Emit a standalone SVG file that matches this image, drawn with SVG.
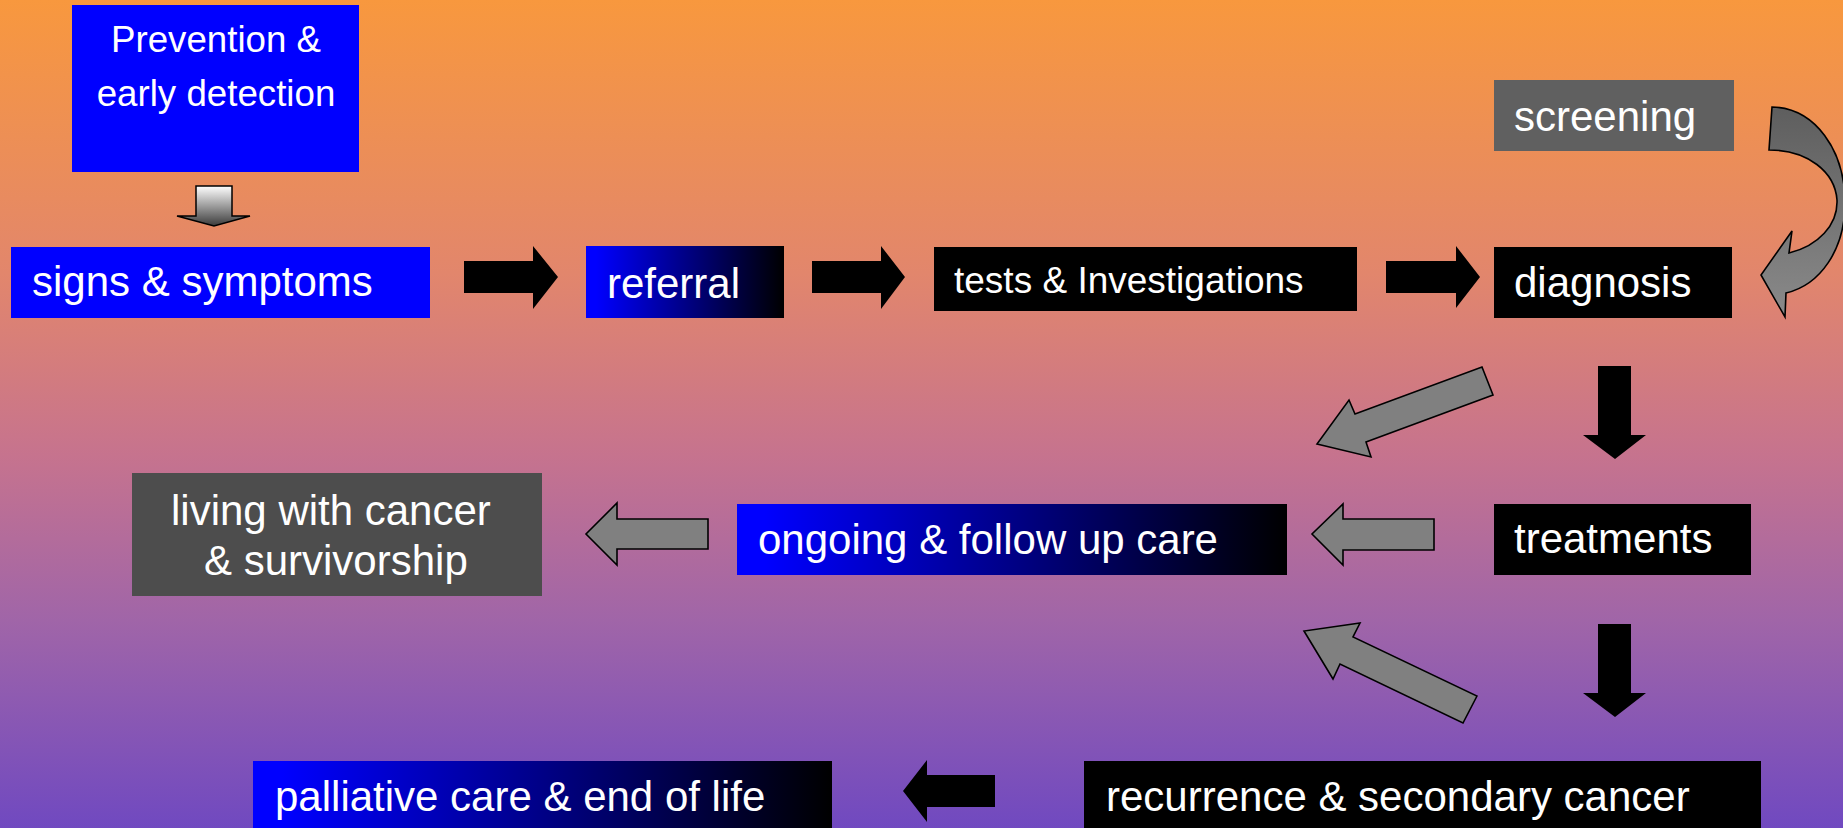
<svg xmlns="http://www.w3.org/2000/svg" width="1843" height="828" viewBox="0 0 1843 828">
<defs>
<linearGradient id="bg" x1="0" y1="0" x2="0" y2="1">
<stop offset="0" stop-color="#F8983E"/>
<stop offset="0.33" stop-color="#E2866C"/>
<stop offset="0.55" stop-color="#C6738E"/>
<stop offset="0.75" stop-color="#A065A8"/>
<stop offset="1" stop-color="#7049C0"/>
</linearGradient>
<linearGradient id="bk" x1="0" y1="0" x2="1" y2="0">
<stop offset="0.05" stop-color="#0000FF"/>
<stop offset="1" stop-color="#000000"/>
</linearGradient>
<linearGradient id="dn" x1="0" y1="0" x2="0" y2="1">
<stop offset="0" stop-color="#FFFFFF"/>
<stop offset="1" stop-color="#3A3A3A"/>
</linearGradient>
<linearGradient id="cv" x1="0" y1="0" x2="0" y2="1">
<stop offset="0" stop-color="#5E5E5E"/>
<stop offset="1" stop-color="#8A8A8A"/>
</linearGradient>
</defs>
<style>
.t{font-family:"Liberation Sans",Arial,sans-serif;font-size:42px;fill:#FFFFFF}
.blue{fill:#0000FF}
.black{fill:#000000}
.grad{fill:url(#bk)}
.gray{fill:#808080;stroke:#000;stroke-width:1.6;stroke-linejoin:miter}
.barrow{fill:#000000}
</style>
<rect x="0" y="0" width="1843" height="828" fill="url(#bg)"/>

<g id="connectors">
<path id="a-prev-signs" d="M196,186 L232,186 L232,216 L250,216 L214,226 L177,216 L196,216 Z" fill="url(#dn)" stroke="#000" stroke-width="1.5"/>
<path id="a-signs-ref" class="barrow" d="M464,261 L533,261 L533,246 L558,277 L533,309 L533,293 L464,293 Z"/>
<path id="a-ref-tests" class="barrow" d="M812,261 L881,261 L881,246 L905,277 L881,309 L881,293 L812,293 Z"/>
<path id="a-tests-diag" class="barrow" d="M1386,261 L1456,261 L1456,246 L1480,277 L1456,308 L1456,293 L1386,293 Z"/>
<path id="a-screen-diag" d="M1772,107 C1815,108 1845,150 1845,203 C1845,250 1820,285 1786,293 L1785,317 L1761,275 L1792,231 L1789,253 C1818,246 1838,225 1837,200 C1835,172 1808,150 1769,150 Z" fill="url(#cv)" stroke="#000" stroke-width="1.6"/>
<path id="a-diag-treat" class="barrow" d="M1598,366 L1631,366 L1631,435 L1646,435 L1615,459 L1583,435 L1598,435 Z"/>
<path id="a-diag-ongoing" class="gray" d="M1482,367 L1493,395 L1366,442 L1371,457 L1317,444 L1349,400 L1355,414 Z"/>
<path id="a-treat-ongoing" class="gray" d="M1434,519 L1343,519 L1343,504 L1312,534 L1343,565 L1343,550 L1434,550 Z"/>
<path id="a-ongoing-living" class="gray" d="M708,519 L617,519 L617,503 L586,534 L617,565 L617,549 L708,549 Z"/>
<path id="a-treat-recur" class="barrow" d="M1598,624 L1631,624 L1631,693 L1646,693 L1615,717 L1583,693 L1598,693 Z"/>
<path id="a-recur-ongoing" class="gray" d="M1477,696 L1463,723 L1340,664 L1333,679 L1304,631 L1360,623 L1353,637 Z"/>
<path id="a-recur-pall" class="barrow" d="M995,775 L927,775 L927,760 L903,791 L927,822 L927,807 L995,807 Z"/>
</g>

<g id="prevention">
<rect class="blue" x="72" y="5" width="287" height="167"/>
<text class="t" x="216" y="52" text-anchor="middle" style="font-size:36.7px">Prevention &amp;</text>
<text class="t" x="216" y="106" text-anchor="middle" style="font-size:36.7px">early detection</text>
</g>
<g id="signs">
<rect class="blue" x="11" y="247" width="419" height="71"/>
<text class="t" x="32" y="296">signs &amp; symptoms</text>
</g>
<g id="referral">
<rect class="grad" x="586" y="246" width="198" height="72"/>
<text class="t" x="607" y="298">referral</text>
</g>
<g id="tests">
<rect class="black" x="934" y="247" width="423" height="64"/>
<text class="t" x="954" y="293" style="font-size:37px">tests &amp; Investigations</text>
</g>
<g id="screening">
<rect x="1494" y="80" width="240" height="71" fill="#606060"/>
<text class="t" x="1514" y="131">screening</text>
</g>
<g id="diagnosis">
<rect class="black" x="1494" y="247" width="238" height="71"/>
<text class="t" x="1514" y="297">diagnosis</text>
</g>
<g id="treatments">
<rect class="black" x="1494" y="504" width="257" height="71"/>
<text class="t" x="1514" y="553">treatments</text>
</g>
<g id="ongoing">
<rect class="grad" x="737" y="504" width="550" height="71"/>
<text class="t" x="758" y="554">ongoing &amp; follow up care</text>
</g>
<g id="living">
<rect x="132" y="473" width="410" height="123" fill="#4D4D4D"/>
<text class="t" x="171" y="525">living with cancer</text>
<text class="t" x="204" y="575">&amp; survivorship</text>
</g>
<g id="recurrence">
<rect class="black" x="1084" y="761" width="677" height="67"/>
<text class="t" x="1106" y="811">recurrence &amp; secondary cancer</text>
</g>
<g id="palliative">
<rect class="grad" x="253" y="761" width="579" height="67"/>
<text class="t" x="275" y="811">palliative care &amp; end of life</text>
</g>
</svg>
